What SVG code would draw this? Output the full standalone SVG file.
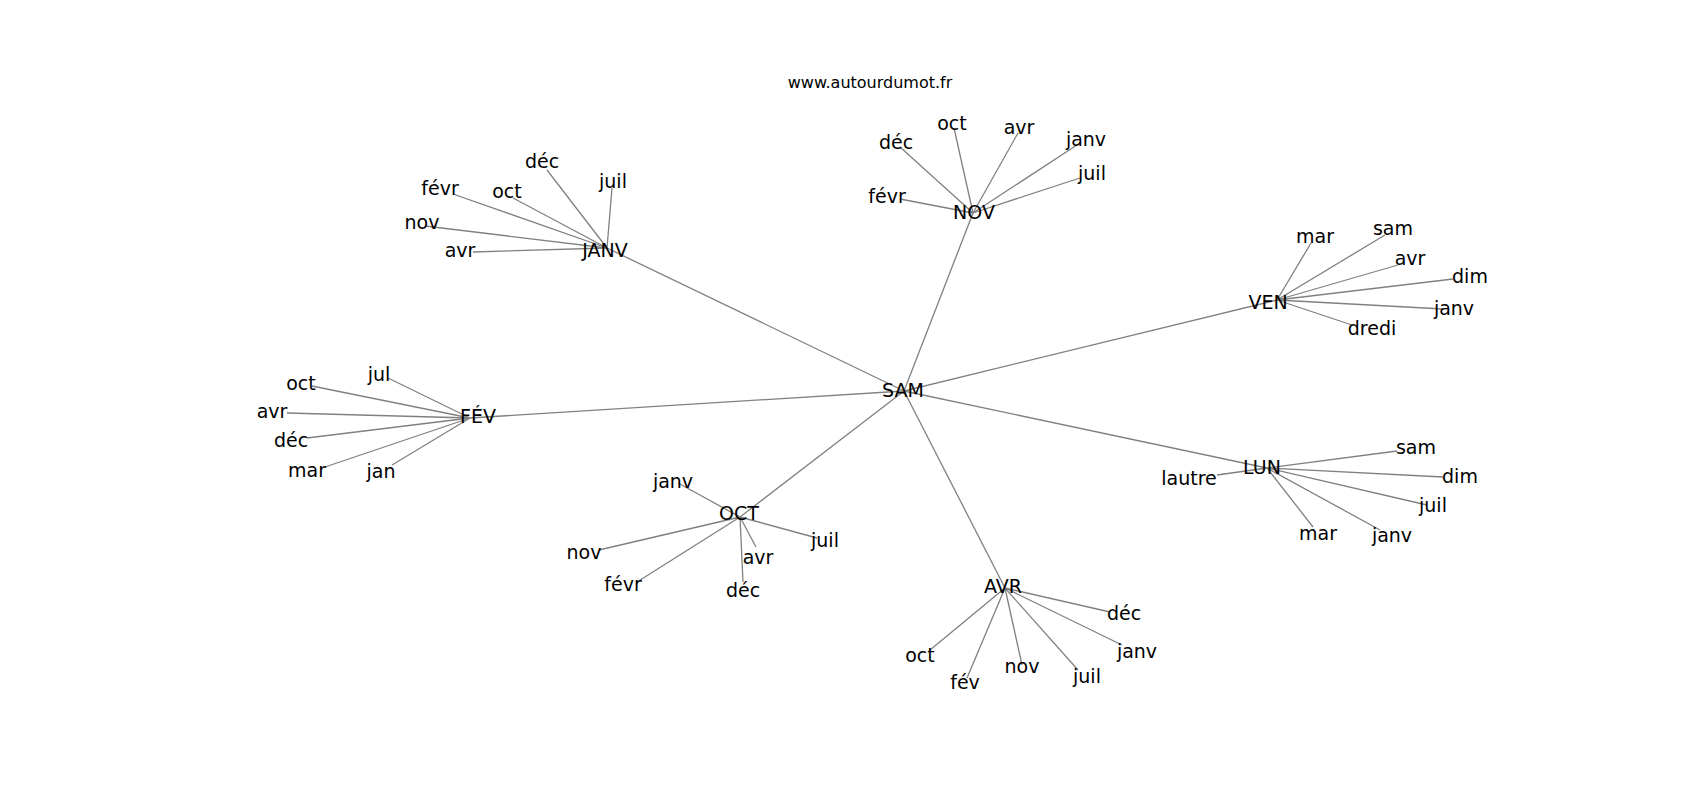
<svg xmlns="http://www.w3.org/2000/svg" width="1700" height="800" viewBox="0 0 1700 800">
<style>
.e{stroke:#808080;stroke-width:1.3;fill:none}
text{font-family:"DejaVu Sans","Liberation Sans",sans-serif;font-size:19px;fill:#000;text-anchor:middle}
.t{font-size:16px}
</style>
<rect width="1700" height="800" fill="#fff"/>
<text class="t" x="870" y="88">www.autourdumot.fr</text>
<g id="edges">
<line class="e" x1="904" y1="391" x2="607" y2="248"/>
<line class="e" x1="904" y1="391" x2="973" y2="213"/>
<line class="e" x1="904" y1="391" x2="1277" y2="300"/>
<line class="e" x1="904" y1="391" x2="470" y2="418"/>
<line class="e" x1="904" y1="391" x2="740" y2="517"/>
<line class="e" x1="904" y1="391" x2="1005" y2="588"/>
<line class="e" x1="904" y1="391" x2="1267" y2="468"/>
<!-- JANV -->
<line class="e" x1="607" y1="248" x2="547" y2="170"/>
<line class="e" x1="607" y1="248" x2="612" y2="188"/>
<line class="e" x1="607" y1="248" x2="453" y2="194"/>
<line class="e" x1="607" y1="248" x2="513" y2="198"/>
<line class="e" x1="607" y1="248" x2="425" y2="226"/>
<line class="e" x1="607" y1="248" x2="473" y2="252"/>
<!-- NOV -->
<line class="e" x1="973" y1="213" x2="954" y2="128"/>
<line class="e" x1="973" y1="213" x2="1018" y2="133"/>
<line class="e" x1="973" y1="213" x2="900" y2="147"/>
<line class="e" x1="973" y1="213" x2="1080" y2="143"/>
<line class="e" x1="973" y1="213" x2="1080" y2="178"/>
<line class="e" x1="973" y1="213" x2="900" y2="199"/>
<!-- VEN -->
<line class="e" x1="1277" y1="300" x2="1311" y2="243"/>
<line class="e" x1="1277" y1="300" x2="1385" y2="235"/>
<line class="e" x1="1277" y1="300" x2="1398" y2="265"/>
<line class="e" x1="1277" y1="300" x2="1453" y2="279"/>
<line class="e" x1="1277" y1="300" x2="1443" y2="309"/>
<line class="e" x1="1277" y1="300" x2="1352" y2="325"/>
<!-- FEV -->
<line class="e" x1="470" y1="418" x2="388" y2="378"/>
<line class="e" x1="470" y1="418" x2="312" y2="386"/>
<line class="e" x1="470" y1="418" x2="287" y2="413"/>
<line class="e" x1="470" y1="418" x2="307" y2="438"/>
<line class="e" x1="470" y1="418" x2="325" y2="467"/>
<line class="e" x1="470" y1="418" x2="392" y2="465"/>
<!-- OCT -->
<line class="e" x1="740" y1="517" x2="678" y2="483"/>
<line class="e" x1="740" y1="517" x2="817" y2="538"/>
<line class="e" x1="740" y1="517" x2="599" y2="550"/>
<line class="e" x1="740" y1="517" x2="756" y2="547"/>
<line class="e" x1="740" y1="517" x2="637" y2="582"/>
<line class="e" x1="740" y1="517" x2="743" y2="582"/>
<!-- AVR -->
<line class="e" x1="1005" y1="588" x2="1110" y2="612"/>
<line class="e" x1="1005" y1="588" x2="1122" y2="645"/>
<line class="e" x1="1005" y1="588" x2="930" y2="650"/>
<line class="e" x1="1005" y1="588" x2="1022" y2="665"/>
<line class="e" x1="1005" y1="588" x2="1078" y2="670"/>
<line class="e" x1="1005" y1="588" x2="967" y2="678"/>
<!-- LUN -->
<line class="e" x1="1267" y1="468" x2="1397" y2="451"/>
<line class="e" x1="1267" y1="468" x2="1443" y2="477"/>
<line class="e" x1="1267" y1="468" x2="1217" y2="475"/>
<line class="e" x1="1267" y1="468" x2="1427" y2="505"/>
<line class="e" x1="1267" y1="468" x2="1313" y2="527"/>
<line class="e" x1="1267" y1="468" x2="1380" y2="530"/>
</g>
<g id="SAM"><text x="903" y="397">SAM</text></g>
<g id="JANV"><text x="605" y="257">JANV</text></g>
<g id="NOV"><text x="974" y="219">NOV</text></g>
<g id="VEN"><text x="1268" y="309">VEN</text></g>
<g id="FEV"><text x="478" y="423">FÉV</text></g>
<g id="OCT"><text x="739" y="520">OCT</text></g>
<g id="AVR"><text x="1003" y="593">AVR</text></g>
<g id="LUN"><text x="1262" y="474">LUN</text></g>
<g id="JANV-leaves">
<text x="542" y="168">déc</text>
<text x="613" y="188">juil</text>
<text x="440" y="195">févr</text>
<text x="507" y="198">oct</text>
<text x="422" y="229">nov</text>
<text x="460" y="257">avr</text>
</g>
<g id="NOV-leaves">
<text x="952" y="130">oct</text>
<text x="1019" y="134">avr</text>
<text x="896" y="149">déc</text>
<text x="1086" y="146">janv</text>
<text x="1092" y="180">juil</text>
<text x="887" y="203">févr</text>
</g>
<g id="VEN-leaves">
<text x="1315" y="243">mar</text>
<text x="1393" y="235">sam</text>
<text x="1410" y="265">avr</text>
<text x="1470" y="283">dim</text>
<text x="1454" y="315">janv</text>
<text x="1372" y="335">dredi</text>
</g>
<g id="FEV-leaves">
<text x="379" y="381">jul</text>
<text x="301" y="390">oct</text>
<text x="272" y="418">avr</text>
<text x="291" y="447">déc</text>
<text x="307" y="477">mar</text>
<text x="381" y="478">jan</text>
</g>
<g id="OCT-leaves">
<text x="673" y="488">janv</text>
<text x="825" y="547">juil</text>
<text x="584" y="559">nov</text>
<text x="758" y="564">avr</text>
<text x="623" y="591">févr</text>
<text x="743" y="597">déc</text>
</g>
<g id="AVR-leaves">
<text x="1124" y="620">déc</text>
<text x="1137" y="658">janv</text>
<text x="920" y="662">oct</text>
<text x="1022" y="673">nov</text>
<text x="1087" y="683">juil</text>
<text x="965" y="689">fév</text>
</g>
<g id="LUN-leaves">
<text x="1416" y="454">sam</text>
<text x="1460" y="483">dim</text>
<text x="1189" y="485">lautre</text>
<text x="1433" y="512">juil</text>
<text x="1318" y="540">mar</text>
<text x="1392" y="542">janv</text>
</g>
</svg>
